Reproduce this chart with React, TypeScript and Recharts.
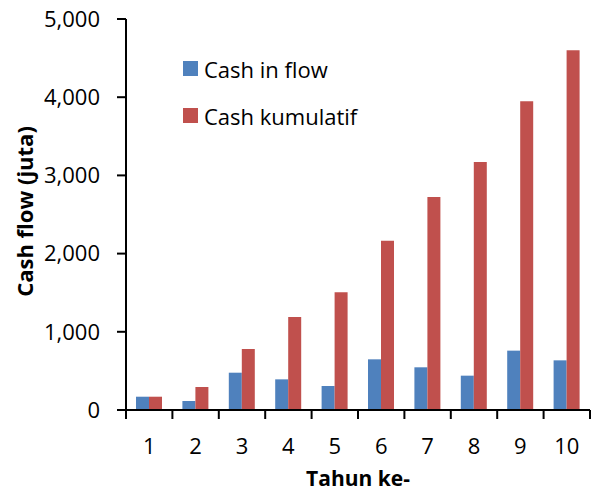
import { BarChart, Bar, XAxis, YAxis, Legend } from "recharts";

const YEARS = ["1", "2", "3", "4", "5", "6", "7", "8", "9", "10"];
const CASH_IN_FLOW = [170, 115, 477, 392, 307, 648, 546, 439, 759, 635];
const CASH_KUMULATIF = [170, 294, 780, 1189, 1505, 2165, 2724, 3171, 3947, 4600];
const Y_TICKS = [0, 1000, 2000, 3000, 4000, 5000];

const SERIES = [
  { key: "inflow", name: "Cash in flow", color: "#4F81BD" },
  { key: "kumulatif", name: "Cash kumulatif", color: "#C0504D" },
];

const data = YEARS.map((year, i) => ({
  year,
  inflow: CASH_IN_FLOW[i],
  kumulatif: CASH_KUMULATIF[i],
}));

const FONT = "'Open Sans', sans-serif";

// Excel puts the category ticks on the boundaries, not under the labels
const YearTick = ({ x, y, payload, index }: any) => {
  const half = payload?.offset ?? 23.2;
  return (
    <g>
      <line x1={x - half} x2={x - half} y1={y} y2={y + 9} stroke="#000" strokeWidth={2} />
      {index === YEARS.length - 1 && (
        <line x1={x + half} x2={x + half} y1={y} y2={y + 9} stroke="#000" strokeWidth={2} />
      )}
      <text x={x} y={y + 36} dy="0.355em" textAnchor="middle" fill="#000" fontSize={22} fontFamily={FONT}>
        {payload.value}
      </text>
    </g>
  );
};

const LegendBox = () => (
  <div style={{ fontFamily: FONT, fontSize: 22, color: "#000" }}>
    {SERIES.map((s, i) => (
      <div key={s.key} style={{ display: "flex", alignItems: "center", height: 15, marginTop: i ? 32 : 0, whiteSpace: "nowrap" }}>
        <span style={{ width: 15, height: 15, background: s.color, display: "inline-block" }} />
        <span style={{ marginLeft: 6 }}>{s.name}</span>
      </div>
    ))}
  </div>
);

export default function App() {
  return (
    <div style={{ width: 591, height: 492, background: "#fff" }}>
      <style>{`body{margin:0}`}</style>
      <BarChart
        width={591}
        height={492}
        data={data}
        margin={{ top: 19, right: 1, bottom: 0, left: 0 }}
        barGap={0}
      >
        <XAxis
          dataKey="year"
          height={82}
          tickSize={0}
          tickMargin={0}
          tickLine={false}
          axisLine={{ stroke: "#000", strokeWidth: 2 }}
          tick={<YearTick />}
          interval={0}
          label={{
            value: "Tahun ke-",
            position: "center",
            dy: 28,
            style: { fontFamily: FONT, fontSize: 21, fontWeight: 700, fill: "#000" },
          }}
        />
        <YAxis
          width={126}
          domain={[0, 5000]}
          ticks={Y_TICKS}
          tickSize={9}
          tickMargin={17}
          tickFormatter={(v: number) => v.toLocaleString("en-US")}
          tick={{ fill: "#000", fontSize: 22, fontFamily: FONT }}
          tickLine={{ stroke: "#000", strokeWidth: 2 }}
          axisLine={{ stroke: "#000", strokeWidth: 2 }}
          label={{
            value: "Cash flow (juta)",
            angle: -90,
            position: "center",
            dx: -38,
            dy: -3,
            style: { fontFamily: FONT, fontSize: 22, fontWeight: 700, fill: "#000", textAnchor: "middle" },
          }}
        />
        <Legend
          layout="vertical"
          align="center"
          verticalAlign="middle"
          content={<LegendBox />}
          wrapperStyle={{ top: 61, left: 183, width: 260 }}
        />
        {SERIES.map((s) => (
          <Bar key={s.key} dataKey={s.key} name={s.name} fill={s.color} barSize={13} isAnimationActive={false} />
        ))}
      </BarChart>
    </div>
  );
}
